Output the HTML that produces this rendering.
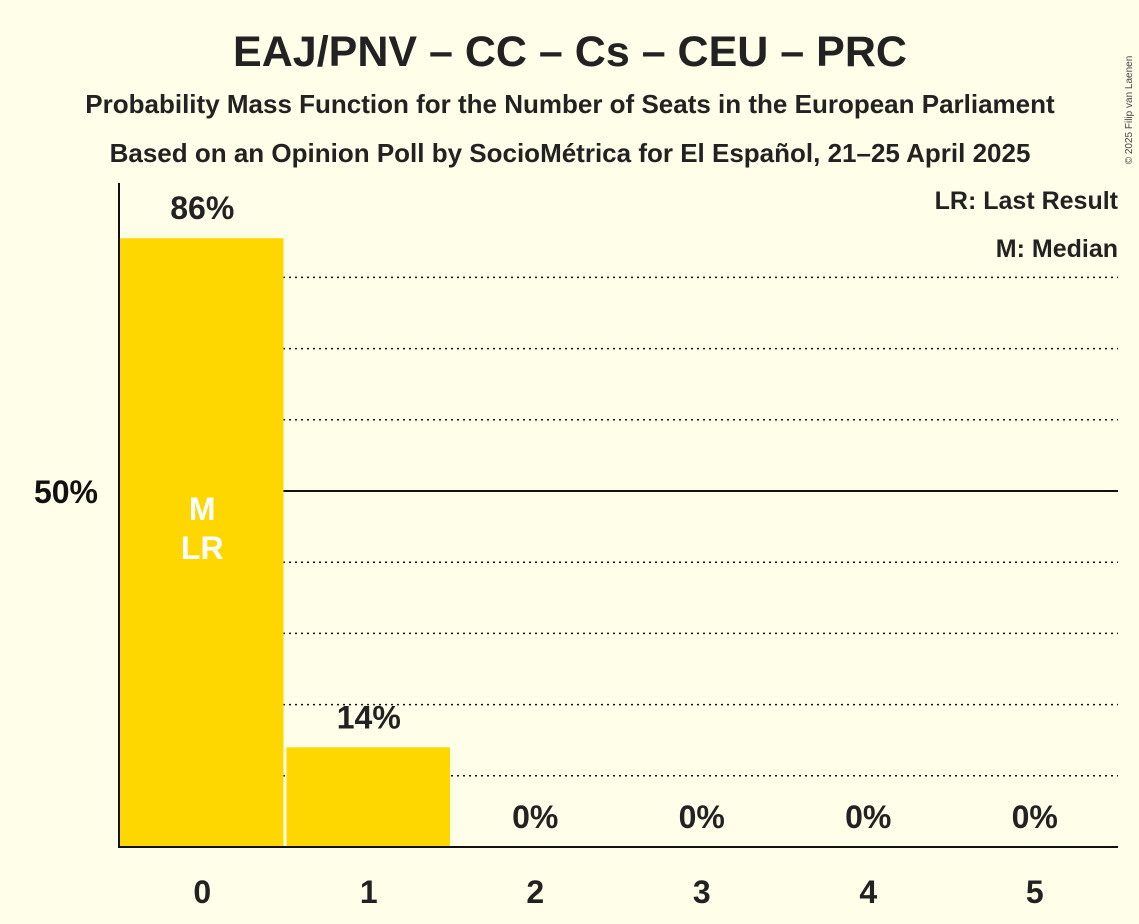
<!DOCTYPE html>
<html><head><meta charset="utf-8"><style>
body{margin:0;background:#FFFEE8;}
svg{display:block;font-family:"Liberation Sans",sans-serif;font-weight:bold;}
</style></head><body>
<svg id="c" width="1139" height="924">
<rect width="1139" height="924" fill="#FFFEE8"/>
<text x="570" y="66" text-anchor="middle" font-size="43" fill="#222">EAJ/PNV – CC – Cs – CEU – PRC</text>
<text x="570" y="113" text-anchor="middle" font-size="26" fill="#222">Probability Mass Function for the Number of Seats in the European Parliament</text>
<text x="570" y="162" text-anchor="middle" font-size="26" fill="#222">Based on an Opinion Poll by SocioMétrica for El Español, 21–25 April 2025</text>
<text x="1132" y="110" font-size="10" font-weight="normal" fill="#444" transform="rotate(-90 1132 110)" text-anchor="middle">© 2025 Filip van Laenen</text>
<text x="1118" y="209" text-anchor="end" font-size="25" fill="#222">LR: Last Result</text>
<text x="1118" y="257" text-anchor="end" font-size="25" fill="#222">M: Median</text>
<g id="grid"></g><g id="bars"></g>
<line x1="119" y1="183" x2="119" y2="848" stroke="#111" stroke-width="2"/>
<line x1="118" y1="847" x2="1118" y2="847" stroke="#111" stroke-width="2"/>
<text x="98" y="503" text-anchor="end" font-size="32" fill="#111">50%</text>
</svg>
<script>
const seats=[0,1,2,3,4,5];
const probs=[85.5,14,0,0,0,0];
const labels=["86%","14%","0%","0%","0%","0%"];
const medianSeat=0, lastResultSeat=0;
const gridVals=[10,20,30,40,50,60,70,80];
const NS="http://www.w3.org/2000/svg";
const x0=119,slot=166.5,yb=847,ppp=7.12;
const X=i=>x0+i*slot, Y=v=>yb-v*ppp;
const g=document.getElementById('grid'),b=document.getElementById('bars');
function mk(t,a,p){const e=document.createElementNS(NS,t);for(const k in a)e.setAttribute(k,a[k]);p.appendChild(e);return e;}
gridVals.forEach(v=>{
 const l=mk('line',{x1:x0+2,x2:1118,y1:Y(v),y2:Y(v),stroke:'#111','stroke-width':v==50?2:1.5,'stroke-dasharray':v==50?'':'2,4'},g);
 
 
});
seats.forEach((s,i)=>{
 const p=probs[i];
 if(p>0){
  const r=mk('rect',{x:X(i)+1,y:Y(p),width:slot-3,height:yb-Y(p),fill:'#FFD700'},b);
  
  
 }
 const cx=X(i)+slot/2;
 const t=mk('text',{x:cx,y:(p>0?Y(p)-19:yb-19),'text-anchor':'middle','font-size':32,fill:'#222'},b);
 t.textContent=labels[i];
 
 
 const xl=mk('text',{x:cx,y:903,'text-anchor':'middle','font-size':32,fill:'#222'},b);
 xl.textContent=s;
 
 
 if(s===medianSeat){const m=mk('text',{x:cx,y:520,'text-anchor':'middle','font-size':32,fill:'#fff'},b);m.textContent='M';
  
  }
 if(s===lastResultSeat){const m=mk('text',{x:cx,y:559,'text-anchor':'middle','font-size':32,fill:'#fff'},b);m.textContent='LR';
  
  }
});
</script>
</body></html>
